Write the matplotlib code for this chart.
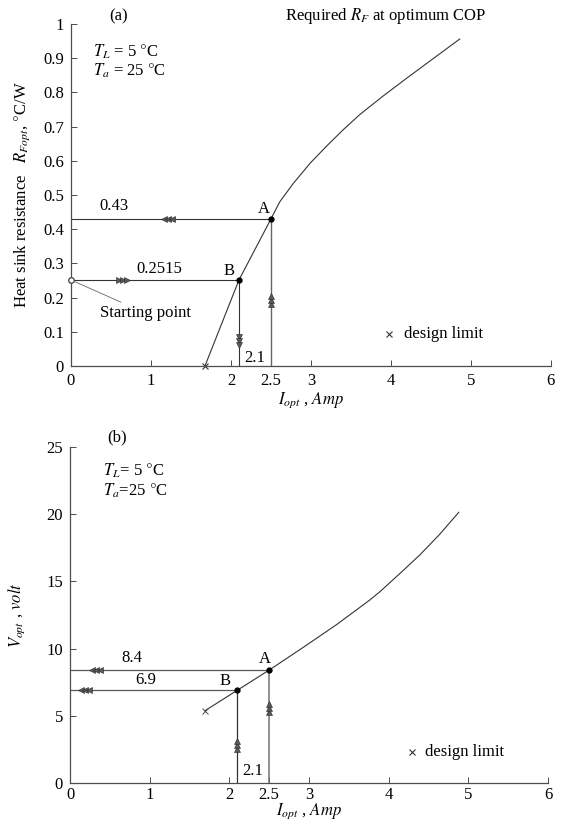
import matplotlib
matplotlib.use('Agg')
import matplotlib.pyplot as plt

plt.rcParams['font.family'] = ['Liberation Serif', 'DejaVu Serif']
plt.rcParams['mathtext.fontset'] = 'stix'

# (a) heat sink resistance vs current
i_a = [1.675, 2.1, 2.5, 2.61, 2.78, 2.99, 3.20, 3.40, 3.61, 3.90, 4.20, 4.53, 4.86]
r_a = [0.0, 0.2515, 0.43, 0.48, 0.534, 0.593, 0.644, 0.690, 0.735, 0.789, 0.842, 0.899, 0.956]

# (b) voltage vs current
i_b = [1.69, 2.1, 2.5, 2.93, 3.35, 3.76, 3.89, 4.18, 4.39, 4.64, 4.88]
v_b = [5.36, 6.9, 8.4, 10.1, 11.8, 13.6, 14.23, 15.8, 16.96, 18.5, 20.14]

pt_a = (2.5, 0.43)
pt_b = (2.1, 0.2515)
vpt_a = (2.5, 8.4)
vpt_b = (2.1, 6.9)

xticks = [0, 1, 2, 2.5, 3, 4, 5, 6]
xticklabels = ['0', '1', '2', '2.5', '3', '4', '5', '6']
yticks_a = [0, 0.1, 0.2, 0.3, 0.4, 0.5, 0.6, 0.7, 0.8, 0.9, 1]
yticklabels_a = ['0', '0.1', '0.2', '0.3', '0.4', '0.5', '0.6', '0.7', '0.8', '0.9', '1']
yticks_b = [0, 5, 10, 15, 20, 25]

LC = '0.2'
FS = 12


def arrow(ax, x, y, direction, dx, dy):
    m = {'left': '<', 'right': '>', 'up': '^', 'down': 'v'}[direction]
    for k in range(3):
        ax.plot(x + k * dx, y + k * dy, marker=m, ms=5, color='0.35',
                markeredgewidth=0.4, markeredgecolor='0.15', zorder=4)


def style(ax, yticks, ylabels):
    ax.set_xlim(0, 6)
    ax.spines['top'].set_visible(False)
    ax.spines['right'].set_visible(False)
    for s in ('left', 'bottom'):
        ax.spines[s].set_color('0.3')
        ax.spines[s].set_linewidth(0.9)
    ax.set_xticks(xticks)
    ax.set_xticklabels(xticklabels)
    ax.set_yticks(yticks)
    ax.set_yticklabels(ylabels)
    ax.tick_params(direction='in', length=4, width=0.7, labelsize=FS,
                   color='0.3', pad=5)
    ax.set_xlabel(r'$I_{opt}$ , $Amp$', fontsize=FS, labelpad=1)


fig = plt.figure(figsize=(5.62, 8.21), dpi=100)

# ---- (a)
ax1 = fig.add_axes([0.1263, 0.5542, 0.854, 0.4166])
ax1.set_ylim(0, 1)
style(ax1, yticks_a, yticklabels_a)
ax1.plot(i_a, r_a, color=LC, lw=0.8)
ax1.plot([0, pt_a[0]], [pt_a[1], pt_a[1]], color=LC, lw=0.8)
ax1.plot([pt_a[0], pt_a[0]], [0, pt_a[1]], color='0.4', lw=1.0)
ax1.plot([0, pt_b[0]], [pt_b[1], pt_b[1]], color=LC, lw=0.8)
ax1.plot([pt_b[0], pt_b[0]], [0, pt_b[1]], color=LC, lw=0.8)
ax1.plot([pt_a[0], pt_b[0]], [pt_a[1], pt_b[1]], 'o', color='k', ms=3.5, zorder=5)
ax1.plot(0, pt_b[1], 'o', mfc='white', mec='0.3', ms=4, zorder=5, clip_on=False)
ax1.plot(i_a[0], r_a[0], 'x', color='0.2', ms=4, mew=0.8, clip_on=False)
arrow(ax1, 1.16, pt_a[1], 'left', 0.05, 0)
arrow(ax1, 0.6, pt_b[1], 'right', 0.05, 0)
arrow(ax1, pt_b[0], 0.085, 'down', 0, -0.012)
arrow(ax1, pt_a[0], 0.18, 'up', 0, 0.012)
ax1.text(0.35, 0.455, '0.43', fontsize=FS)
ax1.text(0.82, 0.272, '0.2515', fontsize=FS)
ax1.text(2.16, 0.012, '2.1', fontsize=FS)
ax1.text(2.34, 0.446, 'A', fontsize=FS)
ax1.text(1.91, 0.265, 'B', fontsize=FS)
ax1.annotate('Starting point', xy=(0, pt_b[1]), xytext=(0.36, 0.155),
             fontsize=FS, arrowprops=dict(arrowstyle='-', color='0.4', lw=0.6,
                                          shrinkA=0, shrinkB=3),
             va='center')
ax1.plot(3.98, 0.094, 'x', color='0.2', ms=4, mew=0.8)
ax1.text(4.16, 0.094, 'design limit', fontsize=FS, va='center')
ax1.text(0.27, 0.92, r'$T_L$ = 5 $\degree$C', fontsize=FS, va='center')
ax1.text(0.27, 0.862, r'$T_a$ = 25 $\degree$C', fontsize=FS, va='center')
ax1.text(0.59, 1.022, '(a)', fontsize=FS, ha='center', va='center', clip_on=False)
ax1.text(3.93, 1.022, r'Required $R_F$ at optimum COP', fontsize=FS,
         ha='center', va='center', clip_on=False)
ax1.set_ylabel(r'Heat sink resistance   $R_{Fopt}$, $\degree$C/W',
               fontsize=FS, labelpad=8)

# ---- (b)
ax2 = fig.add_axes([0.1246, 0.0463, 0.8505, 0.4093])
ax2.set_ylim(0, 25)
style(ax2, yticks_b, [str(t) for t in yticks_b])
ax2.tick_params(axis='x', pad=3)
ax2.xaxis.set_label_coords(0.5, -0.056)
ax2.plot(i_b, v_b, color=LC, lw=0.8)
ax2.plot([0, vpt_a[0]], [vpt_a[1], vpt_a[1]], color='0.35', lw=0.9)
ax2.plot([vpt_a[0], vpt_a[0]], [0, vpt_a[1]], color='0.45', lw=1.1)
ax2.plot([0, vpt_b[0]], [vpt_b[1], vpt_b[1]], color='0.35', lw=0.9)
ax2.plot([vpt_b[0], vpt_b[0]], [0, vpt_b[1]], color=LC, lw=0.9)
ax2.plot([vpt_a[0], vpt_b[0]], [vpt_a[1], vpt_b[1]], 'o', color='k', ms=3.5, zorder=5)
ax2.plot(i_b[0], v_b[0], 'x', color='0.3', ms=4, mew=0.7)
arrow(ax2, 0.28, vpt_a[1], 'left', 0.05, 0)
arrow(ax2, 0.14, vpt_b[1], 'left', 0.05, 0)
arrow(ax2, vpt_b[0], 2.5, 'up', 0, 0.3)
arrow(ax2, vpt_a[0], 5.3, 'up', 0, 0.3)
ax2.text(0.64, 9.0, '8.4', fontsize=FS)
ax2.text(0.82, 7.35, '6.9', fontsize=FS)
ax2.text(2.16, 0.6, '2.1', fontsize=FS)
ax2.text(2.37, 8.95, 'A', fontsize=FS)
ax2.text(1.88, 7.3, 'B', fontsize=FS)
ax2.plot(4.29, 2.3, 'x', color='0.2', ms=4, mew=0.8)
ax2.text(4.45, 2.3, 'design limit', fontsize=FS, va='center')
ax2.text(0.42, 23.2, r'$T_L$= 5 $\degree$C', fontsize=FS, va='center')
ax2.text(0.42, 21.75, r'$T_a$=25 $\degree$C', fontsize=FS, va='center')
ax2.text(0.59, 25.7, '(b)', fontsize=FS, ha='center', va='center', clip_on=False)
ax2.set_ylabel(r'$V_{opt}$ , $volt$', fontsize=FS, labelpad=14)

fig.savefig('out.png', dpi=100)
